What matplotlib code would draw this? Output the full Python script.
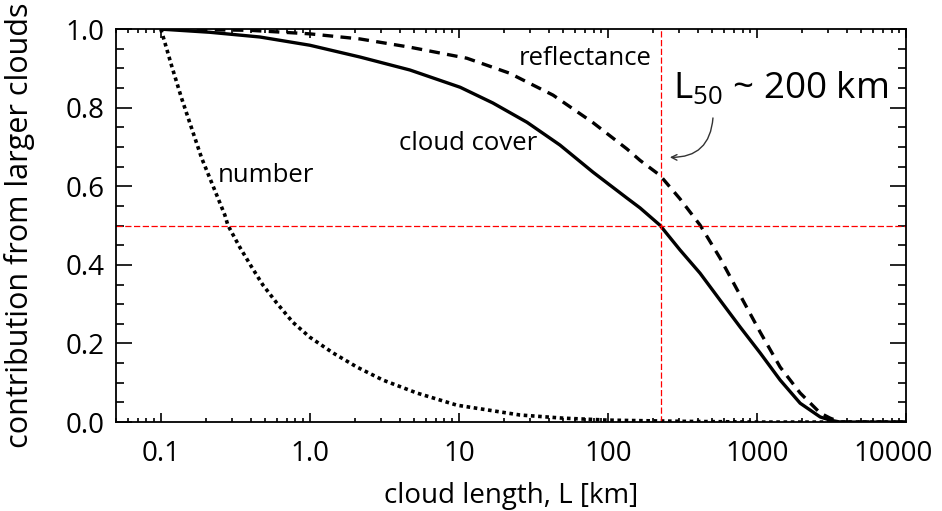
import matplotlib
matplotlib.use("Agg")
import matplotlib.pyplot as plt
from matplotlib.ticker import FixedLocator, LogLocator, NullFormatter
from matplotlib.transforms import ScaledTranslation

plt.rcParams['font.family'] = ['Open Sans', 'DejaVu Sans']
plt.rcParams['mathtext.fontset'] = 'custom'
plt.rcParams['mathtext.rm'] = 'Open Sans'

# cloud length [km] and the fraction contributed by larger clouds
num_L = [0.1, 0.103, 0.118, 0.138, 0.161, 0.188, 0.223, 0.269, 0.282, 0.339, 0.408, 0.484,
         0.6, 0.769, 1.0, 1.43, 2.07, 3.09, 5.22, 9.7, 25.7, 50, 100, 300, 1000, 10000]
num_y = [1.0, 0.985, 0.908, 0.824, 0.748, 0.672, 0.603, 0.527, 0.501, 0.445, 0.394, 0.349,
         0.303, 0.254, 0.216, 0.176, 0.14, 0.107, 0.074, 0.043, 0.018, 0.01, 0.005, 0.002, 0.0, 0.0]

cov_L = [0.1, 0.213, 0.462, 1.0, 2.17, 4.69, 10.2, 16.9, 28.6, 47.6, 79.3, 134, 164, 223, 304,
         414, 565, 769, 1048, 1427, 1944, 2650, 3090, 3610, 10000]
cov_y = [1.0, 0.992, 0.980, 0.959, 0.929, 0.896, 0.852, 0.812, 0.763, 0.705, 0.636, 0.570, 0.545, 0.501, 0.438,
         0.379, 0.31, 0.242, 0.176, 0.107, 0.048, 0.013, 0.005, 0.0, 0.0]

ref_L = [0.1, 0.396, 1.0, 2.17, 4.69, 11.3, 21.8, 42.8, 79.3, 134, 164, 223, 304, 415,
         565, 769, 1048, 1427, 1944, 2650, 3090, 3610, 10000]
ref_y = [1.0, 0.997, 0.988, 0.975, 0.954, 0.926, 0.888, 0.832, 0.762, 0.695, 0.666, 0.628, 0.568, 0.501,
         0.417, 0.323, 0.229, 0.140, 0.074, 0.023, 0.010, 0.0, 0.0]

L50 = 227
half = 0.5

x_ticks = [0.1, 1, 10, 100, 1000, 10000]
x_labels = ['0.1', '1.0', '10', '100', '1000', '10000']
y_ticks = [0.0, 0.2, 0.4, 0.6, 0.8, 1.0]
y_labels = ['0.0', '0.2', '0.4', '0.6', '0.8', '1.0']

fig = plt.figure(figsize=(9.42, 5.11), dpi=100)
ax = fig.add_axes([0.123, 0.174, 0.839, 0.769])

ax.plot(num_L, num_y, color='black', lw=2.6, linestyle=(0, (1, 1)))
ax.plot(cov_L, cov_y, color='black', lw=2.4, solid_capstyle='butt', solid_joinstyle='round')
ax.plot(ref_L, ref_y, color='black', lw=2.4, linestyle=(0, (3.2, 2.2)))

ax.axhline(half, color='#ff0000', lw=0.9, linestyle=(0, (5, 2)))
ax.axvline(L50, color='#ff0000', lw=0.9, linestyle=(0, (5, 2)))

ax.set_xscale('log')
ax.set_xlim(0.05, 10000)
ax.set_ylim(0, 1.0)

ax.xaxis.set_major_locator(FixedLocator(x_ticks))
ax.set_xticklabels(x_labels)
ax.xaxis.set_minor_locator(LogLocator(base=10, subs=range(2, 10)))
ax.xaxis.set_minor_formatter(NullFormatter())
ax.yaxis.set_major_locator(FixedLocator(y_ticks))
ax.set_yticklabels(y_labels)
ax.yaxis.set_minor_locator(FixedLocator([i * 0.05 for i in range(21)]))

ax.tick_params(axis='both', which='both', direction='in', top=True, right=True,
               labelsize=20, width=1.2)
ax.tick_params(axis='x', which='major', length=6.5, pad=13)
ax.tick_params(axis='x', which='minor', length=3)
ax.tick_params(axis='y', which='major', length=11.5, pad=8)
ax.tick_params(axis='y', which='minor', length=6)
for s in ax.spines.values():
    s.set_linewidth(1.3)

# last x label sits a bit left so it stays inside the figure
last = ax.get_xticklabels()[-1]
last.set_transform(last.get_transform() + ScaledTranslation(-13 / 100, 0, fig.dpi_scale_trans))

ax.set_xlabel('cloud length, L [km]', fontsize=20, labelpad=10)
ax.set_ylabel('contribution from larger clouds', fontsize=22)
ax.yaxis.set_label_coords(-0.1025, 0.5)

ax.text(70, 0.926, 'reflectance', fontsize=18.5, ha='center', va='center')
ax.text(11.5, 0.71, 'cloud cover', fontsize=18.5, ha='center', va='center')
ax.text(0.507, 0.628, 'number', fontsize=18.5, ha='center', va='center')
ax.text(273, 0.824, r'L$_{\mathrm{50}}$ ~ 200 km', fontsize=26.5, ha='left', va='baseline')

ax.annotate('', xy=(249, 0.674), xytext=(507, 0.781),
            arrowprops=dict(arrowstyle='->', color='#333333', lw=1.0,
                            connectionstyle='arc3,rad=-0.5'))

fig.savefig('out.png', dpi=100)
